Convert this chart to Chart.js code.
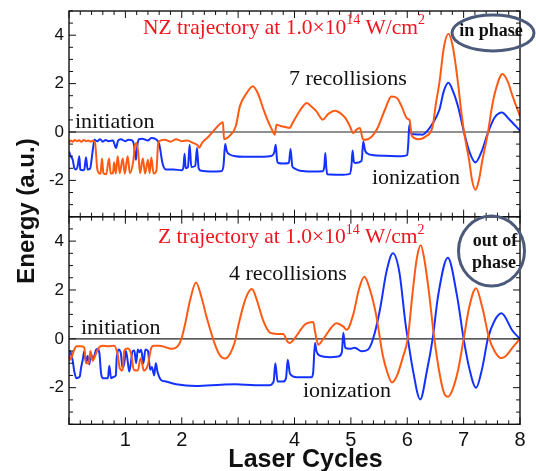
<!DOCTYPE html>
<html><head><meta charset="utf-8">
<script src="https://cdn.jsdelivr.net/npm/chart.js@4.4.1/dist/chart.umd.min.js"></script>
<style>
html,body{margin:0;padding:0;background:#fff;}
#wrap{position:relative;width:536px;height:471px;}
canvas{position:absolute;left:0;top:0;}
</style></head><body>
<div id="wrap"><canvas id="c1" width="536" height="471"></canvas><canvas id="c2" width="536" height="471"></canvas></div>
<script>
// ---------- axis ticks ----------
const xTickLabels = [1, 2, 4, 5, 6, 7, 8];
const yTickLabels = [-2, 0, 2, 4];
const xRange = [0, 8];
const yRange = [-3.5, 5];

// ---------- NZ trajectory (top panel) ----------
const nzOrangeX = [0,0.03,0.07,0.10,0.14,0.18,0.22,0.26,0.30,0.34,0.38,0.42,0.46,0.50,0.53,0.56,0.585,0.61,0.66,0.71,0.74,0.78,0.80,0.83,0.864,0.90,0.953,0.99,1.04,1.08,1.14,1.17,1.20,1.23,1.26,1.31,1.35,1.40,1.43,1.46,1.50,1.55,1.58,1.60,1.70,1.80,1.90,2.00,2.10,2.20,2.28,2.31,2.36,2.48,2.61,2.70,2.73,2.75,2.80,2.84,2.96,3.03,3.15,3.26,3.35,3.44,3.53,3.60,3.65,3.68,3.75,3.85,3.92,3.95,4.10,4.22,4.30,4.39,4.50,4.60,4.72,4.80,4.90,4.98,5.04,5.10,5.16,5.20,5.22,5.30,5.46,5.60,5.72,5.82,5.90,6.00,6.04,6.08,6.20,6.33,6.45,6.51,6.57,6.65,6.73,6.81,6.90,6.95,7.01,7.10,7.15,7.21,7.27,7.33,7.43,7.50,7.57,7.69,7.78,7.87,8.00];
const nzOrangeY = [-0.45,-0.35,-0.40,-0.33,-0.38,-0.34,-0.40,-0.33,-0.38,-0.35,-0.40,-0.36,-0.42,-1.50,-1.70,-1.72,-1.10,-1.70,-1.75,-1.10,-1.72,-1.70,-1.25,-1.72,-1.00,-1.70,-1.10,-1.72,-1.00,-1.70,-1.20,-0.55,-0.45,-0.90,-1.70,-1.10,-1.72,-1.15,-1.70,-1.05,-1.72,-1.60,-0.50,-0.38,-0.32,-0.40,-0.30,-0.38,-0.35,-0.45,-0.55,-0.65,-0.45,-0.18,0.17,0.37,0.40,-0.30,-0.25,-0.18,0.25,1.06,1.60,1.89,1.60,1.00,0.45,0.10,-0.11,0.30,0.25,0.20,0.17,0.30,0.90,1.20,1.05,0.85,0.51,0.75,0.88,0.80,0.58,0.25,-0.04,0.10,0.17,-0.20,-0.32,-0.30,0.10,0.90,1.47,1.40,1.06,0.55,0.50,-0.15,-0.30,-0.18,0.23,1.20,2.03,3.50,4.06,3.50,2.03,1.00,-0.04,-1.20,-2.00,-2.39,-2.00,-1.20,-0.04,1.00,1.75,2.40,2.10,1.47,0.65];

const nzBlueX = [0,0.03,0.066,0.094,0.124,0.154,0.183,0.20,0.24,0.271,0.302,0.33,0.373,0.408,0.43,0.449,0.50,0.55,0.60,0.65,0.70,0.78,0.834,0.869,0.92,1.00,1.05,1.12,1.15,1.188,1.21,1.24,1.30,1.40,1.46,1.54,1.60,1.66,1.72,1.85,2.00,2.03,2.05,2.07,2.11,2.14,2.17,2.24,2.27,2.30,2.35,2.50,2.70,2.74,2.77,2.80,2.86,2.95,3.10,3.40,3.60,3.64,3.667,3.69,3.713,3.80,3.90,3.93,3.96,3.99,4.10,4.30,4.50,4.53,4.546,4.565,4.582,4.80,4.98,5.01,5.03,5.05,5.07,5.19,5.22,5.25,5.28,5.40,5.60,5.90,6.00,6.02,6.036,6.06,6.08,6.20,6.27,6.33,6.45,6.57,6.65,6.73,6.81,6.90,7.01,7.10,7.21,7.32,7.43,7.55,7.68,7.80,8.00];
const nzBlueY = [-0.80,-1.00,-1.15,-1.49,-1.55,-1.40,-1.00,-1.55,-1.58,-1.55,-1.04,-1.55,-1.52,-1.00,-0.60,-0.32,-0.38,-0.30,-0.40,-0.33,-0.38,-0.35,-0.66,-0.36,-0.30,-0.38,-0.32,-0.35,-0.50,-1.15,-0.60,-0.30,-0.28,-0.35,-0.25,-0.30,-0.50,-1.30,-1.55,-1.55,-1.58,-1.45,-0.90,-1.50,-1.45,-0.53,-1.45,-1.40,-0.66,-1.50,-1.60,-1.63,-1.62,-1.40,-0.50,-0.80,-0.94,-1.00,-1.02,-1.02,-0.98,-0.85,-0.53,-1.15,-1.28,-1.30,-1.28,-0.70,-1.40,-1.49,-1.60,-1.63,-1.62,-1.40,-0.87,-1.50,-1.75,-1.77,-1.73,-1.40,-0.76,-1.20,-1.28,-1.20,-0.39,-0.75,-0.87,-0.96,-0.98,-1.00,-0.95,-0.40,0.30,0.00,-0.08,-0.10,-0.11,-0.02,0.35,0.92,1.70,2.03,1.70,1.06,-0.04,-0.80,-1.26,-0.80,-0.04,0.60,0.81,0.55,0.05];

// ---------- Z trajectory (bottom panel) ----------
const zOrangeX = [0,0.018,0.094,0.13,0.20,0.271,0.30,0.35,0.38,0.42,0.48,0.53,0.60,0.70,0.80,0.864,0.90,0.95,0.98,1.04,1.10,1.15,1.22,1.27,1.33,1.40,1.455,1.50,1.60,1.72,1.83,1.93,1.99,2.058,2.15,2.253,2.35,2.443,2.59,2.67,2.767,2.86,2.945,3.00,3.092,3.17,3.246,3.33,3.447,3.565,3.684,3.80,3.872,3.92,3.979,4.186,4.333,4.364,4.422,4.511,4.749,4.866,4.926,5.043,5.14,5.238,5.34,5.446,5.564,5.65,5.729,5.82,5.919,6.008,6.10,6.17,6.239,6.30,6.38,6.48,6.58,6.65,6.723,6.80,6.90,7.001,7.10,7.22,7.33,7.455,7.56,7.663,7.75,7.871,8.00];
const zOrangeY = [-0.51,-0.86,-0.44,-0.30,-0.30,-0.35,-1.00,-1.00,-0.50,-0.90,-0.60,-0.36,-0.28,-0.30,-0.28,-0.65,-1.20,-1.30,-0.50,-0.40,-0.60,-1.27,-1.30,-0.80,-1.30,-1.05,-0.40,-0.28,-0.28,-0.35,-0.41,-0.30,-0.03,0.59,1.60,2.31,1.70,0.87,-0.24,-0.65,-0.81,-0.60,-0.10,0.50,1.35,1.85,2.04,1.60,0.73,0.25,0.20,0.20,-0.10,-0.17,-0.05,0.59,0.69,0.30,-0.24,0.00,0.64,0.50,0.37,1.00,2.00,2.54,2.00,1.00,-0.65,-1.40,-1.79,-1.50,-0.78,0.00,2.00,3.30,3.83,3.30,2.00,0.00,-1.50,-2.20,-2.37,-2.10,-1.30,0.00,1.30,2.07,1.30,0.00,-0.55,-0.79,-0.70,-0.35,0.00];

const zBlueX = [0,0.018,0.066,0.094,0.13,0.19,0.213,0.24,0.271,0.302,0.33,0.36,0.39,0.42,0.45,0.48,0.51,0.54,0.568,0.60,0.69,0.715,0.745,0.80,0.83,0.846,0.88,0.92,0.95,0.98,1.01,1.04,1.07,1.13,1.16,1.19,1.22,1.25,1.28,1.32,1.355,1.40,1.44,1.47,1.51,1.54,1.57,1.63,1.72,1.90,2.25,2.70,2.95,3.30,3.55,3.63,3.66,3.70,3.80,3.85,3.88,3.92,4.04,4.30,4.33,4.364,4.39,4.45,4.63,4.78,4.84,4.866,4.90,4.98,5.07,5.19,5.30,5.39,5.517,5.63,5.745,5.86,5.97,6.01,6.10,6.23,6.35,6.45,6.55,6.72,6.88,7.00,7.10,7.22,7.33,7.43,7.55,7.67,7.87,8.00];
const zBlueY = [-0.79,-0.50,-0.90,-1.34,-1.61,-1.55,-1.20,-0.90,-0.51,-0.95,-0.70,-1.05,-0.60,-0.85,-0.70,-0.45,-0.42,-0.60,-1.40,-1.61,-1.61,-1.10,-1.61,-1.55,-1.50,-0.80,-0.44,-0.60,-1.20,-1.00,-0.50,-0.90,-1.34,-0.50,-0.48,-1.00,-0.44,-0.55,-0.45,-1.00,-0.44,-0.50,-1.27,-1.15,-1.50,-1.00,-1.35,-1.68,-1.75,-1.86,-1.93,-1.88,-1.86,-1.90,-1.90,-1.75,-1.00,-1.75,-1.75,-1.60,-0.86,-1.43,-1.57,-1.57,-1.40,-0.17,-0.51,-0.69,-0.75,-0.72,-0.55,0.25,-0.37,-0.41,-0.37,-0.51,-0.45,-0.03,1.21,2.73,3.50,2.73,0.60,0.00,-1.27,-2.48,-1.30,0.00,1.80,3.32,1.80,0.00,-1.20,-2.00,-1.20,0.00,0.75,1.05,0.32,0.00];

const ORANGE = '#ff5a14';
const BLUE = '#1432ff';
const RED = '#f0141e';
const SERIF = "'Liberation Serif','Times New Roman',serif";
const SANS = "'Liberation Sans',Arial,sans-serif";

function pts(xs, ys) { return xs.map((x, i) => ({x: x, y: ys[i]})); }

function drawTexts(ctx, items) {
  items.forEach(it => {
    ctx.save();
    ctx.fillStyle = it.color || '#111';
    ctx.textBaseline = 'alphabetic';
    if (it.parts) {
      ctx.textAlign = 'left';
      let x = it.x;
      it.parts.forEach(p => {
        const s = p.sup ? Math.round(it.size * 0.66) : it.size;
        ctx.font = s + 'px ' + it.family;
        ctx.fillText(p.t, x, it.y - (p.sup ? it.size * 0.42 : 0));
        x += ctx.measureText(p.t).width;
      });
    } else {
      ctx.textAlign = it.align || 'left';
      ctx.font = (it.bold ? 'bold ' : '') + it.size + 'px ' + it.family;
      ctx.fillText(it.text, it.x, it.y);
    }
    ctx.restore();
  });
}

function framePlugin(opts) {
  return {
    id: 'frame' + opts.name,
    beforeDatasetsDraw(chart) {
      const {ctx, chartArea: a, scales: {y}} = chart;
      const py = y.getPixelForValue(0);
      ctx.save();
      ctx.strokeStyle = '#222'; ctx.lineWidth = 1.2;
      ctx.beginPath(); ctx.moveTo(a.left, py); ctx.lineTo(a.right, py); ctx.stroke();
      ctx.restore();
    },
    afterDraw(chart) {
      const {ctx, chartArea: a, scales: {x, y}} = chart;
      ctx.save();
      ctx.strokeStyle = '#111';
      ctx.lineWidth = 1;
      const line = (x1, y1, x2, y2) => { ctx.beginPath(); ctx.moveTo(x1, y1); ctx.lineTo(x2, y2); ctx.stroke(); };
      for (let i = 0; i <= 40; i++) {
        const v = i * 0.2;
        const major = i % 5 === 0;
        const len = major ? 7 : 4;
        const px = x.getPixelForValue(v);
        line(px, a.top, px, a.top + len);
        line(px, a.bottom, px, a.bottom - len);
      }
      for (let i = 0; i <= 17; i++) {
        const v = -3.5 + i * 0.5;
        const major = Math.abs(v % 2) < 1e-9;
        const len = major ? 7 : 4;
        const py = y.getPixelForValue(v);
        line(a.left, py, a.left + len, py);
        line(a.right, py, a.right - len, py);
      }
      ctx.lineWidth = 1.4;
      ctx.strokeRect(a.left, a.top, a.right - a.left, a.bottom - a.top);
      ctx.restore();
      const e = opts.ellipse;
      ctx.save();
      ctx.strokeStyle = '#4b5a78'; ctx.lineWidth = 3;
      ctx.beginPath(); ctx.ellipse(e.cx, e.cy, e.rx, e.ry, 0, 0, Math.PI * 2); ctx.stroke();
      ctx.restore();
      drawTexts(ctx, opts.texts);
      if (opts.extra) opts.extra(ctx);
    }
  };
}

function makeChart(id, oX, oY, bX, bY, bottom, plugin) {
  return new Chart(document.getElementById(id), {
    type: 'line',
    data: {
      datasets: [
        {data: pts(oX, oY), borderColor: ORANGE, borderWidth: 2, pointRadius: 0, cubicInterpolationMode: 'monotone', fill: false},
        {data: pts(bX, bY), borderColor: BLUE, borderWidth: 2, pointRadius: 0, cubicInterpolationMode: 'monotone', fill: false}
      ]
    },
    options: {
      responsive: false, animation: false, devicePixelRatio: 1,
      layout: {padding: bottom ? {top: 216.7, right: 16, left: 0, bottom: 0} : {top: 11, right: 16, left: 0, bottom: 254.3}},
      plugins: {legend: {display: false}, tooltip: {enabled: false}},
      scales: {
        x: {
          type: 'linear', min: xRange[0], max: xRange[1], display: bottom,
          afterBuildTicks: s => { s.ticks = xTickLabels.map(v => ({value: v})); },
          afterFit: s => { s.height = bottom ? 46.7 : 0; s.paddingLeft = 0; s.paddingRight = 0; },
          grid: {display: false, drawTicks: false}, border: {display: false},
          ticks: {font: {size: 20, family: SANS}, color: '#111', padding: 4, maxRotation: 0}
        },
        y: {
          type: 'linear', min: yRange[0], max: yRange[1],
          afterBuildTicks: s => { s.ticks = yTickLabels.map(v => ({value: v})); },
          afterFit: s => { s.width = 69; s.paddingTop = 0; s.paddingBottom = 0; },
          grid: {display: false, drawTicks: false}, border: {display: false},
          ticks: {font: {size: 17, family: SANS}, color: '#111', padding: 5}
        }
      }
    },
    plugins: [plugin]
  });
}

const topPlugin = framePlugin({
  name: 'top',
  ellipse: {cx: 493, cy: 33, rx: 41, ry: 18},
  texts: [
    {x: 143, y: 33.5, size: 21.5, family: SERIF, color: RED, parts: [{t: 'NZ trajectory at 1.0\u00d710'}, {t: '14', sup: true}, {t: ' W/cm'}, {t: '2', sup: true}]},
    {text: '7 recollisions', x: 289, y: 85, size: 22, family: SERIF},
    {text: 'initiation', x: 75, y: 128.3, size: 22, family: SERIF},
    {text: 'ionization', x: 372, y: 184, size: 22, family: SERIF},
    {text: 'in phase', x: 491, y: 35.5, size: 18, family: SERIF, bold: true, align: 'center'}
  ]
});

const bottomPlugin = framePlugin({
  name: 'bottom',
  ellipse: {cx: 491.5, cy: 251, rx: 33, ry: 35},
  texts: [
    {x: 158, y: 243, size: 21.5, family: SERIF, color: RED, parts: [{t: 'Z trajectory at 1.0\u00d710'}, {t: '14', sup: true}, {t: ' W/cm'}, {t: '2', sup: true}]},
    {text: '4 recollisions', x: 229, y: 280, size: 22, family: SERIF},
    {text: 'initiation', x: 81, y: 334.3, size: 22, family: SERIF},
    {text: 'ionization', x: 303, y: 396.7, size: 22, family: SERIF},
    {text: 'out of', x: 495, y: 245.7, size: 18, family: SERIF, bold: true, align: 'center'},
    {text: 'phase', x: 494, y: 268.3, size: 18, family: SERIF, bold: true, align: 'center'},
    {text: 'Laser Cycles', x: 305.5, y: 466.5, size: 25, family: SANS, bold: true, align: 'center'}
  ],
  extra(ctx) {
    ctx.save();
    ctx.translate(34, 211);
    ctx.rotate(-Math.PI / 2);
    ctx.font = 'bold 24px ' + SANS;
    ctx.fillStyle = '#111';
    ctx.textAlign = 'center';
    ctx.textBaseline = 'alphabetic';
    ctx.fillText('Energy (a.u.)', 0, 0);
    ctx.restore();
  }
});

makeChart('c1', nzOrangeX, nzOrangeY, nzBlueX, nzBlueY, false, topPlugin);
makeChart('c2', zOrangeX, zOrangeY, zBlueX, zBlueY, true, bottomPlugin);
</script>
</body></html>
